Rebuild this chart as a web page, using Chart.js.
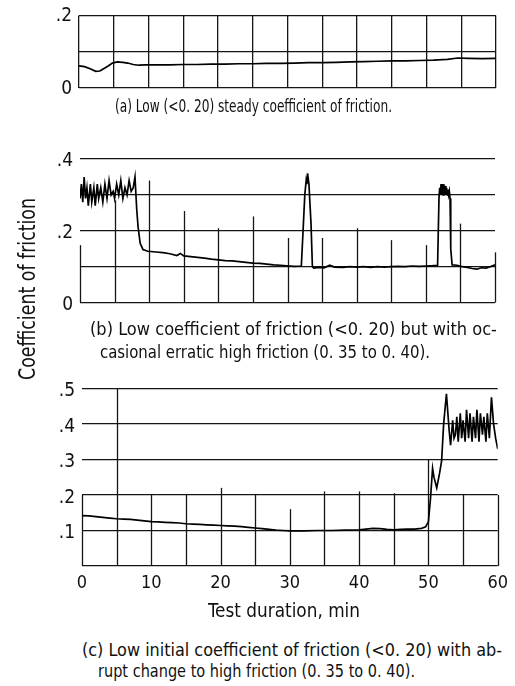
<!DOCTYPE html>
<html><head><meta charset="utf-8">
<script src="https://cdn.jsdelivr.net/npm/chart.js@4.4.1/dist/chart.umd.min.js"></script>
<style>
html,body{margin:0;padding:0;background:#fff;}
#page{position:relative;width:515px;height:686px;overflow:hidden;background:#fff;}
canvas{position:absolute;left:0;}
.txt{position:absolute;white-space:nowrap;line-height:1;color:#111;
 font-family:"Liberation Sans Narrow","DejaVu Sans Condensed","Liberation Sans",sans-serif;transform-origin:0 0;}
</style></head><body>
<div id="page">
 <canvas id="ca" width="515" height="109" style="top:-3px"></canvas>
 <canvas id="cb" width="515" height="181" style="top:140px"></canvas>
 <canvas id="cc" width="515" height="232" style="top:370px"></canvas>
</div>
<script>
// ---------- data ----------
const aMin = [0,0.8,1.6,2.4,3.0,3.6,4.2,4.8,5.5,6.3,7.0,7.8,8.6,9.5,11,13,15,17,19,21,23,25,27,29,31,33,35,37,39,41,43,45,47,49,51,53,54.5,56,58,60];
const aVal = [0.060,0.058,0.052,0.045,0.046,0.053,0.060,0.068,0.071,0.070,0.068,0.064,0.062,0.063,0.063,0.063,0.064,0.064,0.065,0.065,0.066,0.066,0.067,0.067,0.068,0.069,0.069,0.070,0.071,0.072,0.073,0.074,0.074,0.075,0.076,0.078,0.082,0.081,0.080,0.081];

const bMin = [0,0.2,0.4,0.6,0.8,1.0,1.2,1.5,1.7,2.0,2.2,2.5,2.7,3.0,3.3,3.6,3.9,4.2,4.5,4.8,5.0,5.3,5.6,5.9,6.2,6.5,6.8,7.1,7.4,7.7,7.95,
 8.2,8.4,8.7,9.1,9.8,11,12,13,14,14.5,15,16,17,18,19,20,21,22,23,24,25,26,27,28,29,30.3,31,32.0,
 32.2,32.5,32.7,32.8,32.9,33.1,33.4,33.6,33.8,34.5,35.3,36.1,36.8,38,39,40,41,42,43,44,45,46,47,48,49,50,51.0,51.7,
 51.9,52.0,52.1,52.2,52.3,52.4,52.5,52.6,52.7,52.8,52.9,53.0,53.1,53.2,53.3,53.4,53.5,53.6,53.8,
 54.5,55.3,56,56.7,57.4,58,58.7,59.3,60];
const bVal = [0.29,0.33,0.28,0.35,0.29,0.32,0.27,0.33,0.28,0.32,0.27,0.33,0.29,0.32,0.28,0.33,0.29,0.34,0.30,0.31,0.29,0.33,0.30,0.34,0.29,0.32,0.30,0.34,0.31,0.32,0.35,
 0.26,0.21,0.165,0.148,0.143,0.141,0.139,0.136,0.131,0.137,0.130,0.128,0.126,0.124,0.121,0.119,0.117,0.116,0.114,0.112,0.110,0.109,0.107,0.105,0.104,0.102,0.101,0.102,
 0.18,0.30,0.34,0.33,0.36,0.33,0.22,0.10,0.096,0.098,0.097,0.104,0.099,0.098,0.100,0.099,0.100,0.098,0.100,0.099,0.100,0.101,0.100,0.102,0.101,0.102,0.103,0.104,
 0.29,0.32,0.30,0.33,0.30,0.33,0.30,0.33,0.30,0.325,0.30,0.32,0.30,0.315,0.30,0.31,0.29,0.15,0.105,
 0.104,0.100,0.098,0.095,0.093,0.097,0.096,0.100,0.105];

const cMin = [0,1,2,3,4,5,6,7,8,9,10,11,12,13,14,15,16,17,18,19,20,21,22,23,24,25,26,27,28,29,30,32,34,36,38,40,41,42,43,44,45,46,47,48,49,
 49.6,50.0,50.3,50.6,50.8,51.2,51.6,51.9,52.2,52.6,53.0,53.2,53.5,53.7,53.9,54.1,54.3,54.6,54.8,55.0,55.3,55.5,55.8,56.0,56.3,56.5,56.8,57.0,57.3,57.5,57.8,58.0,58.3,58.5,58.8,59.1,59.4,59.7,60];
const cVal = [0.142,0.141,0.139,0.137,0.135,0.133,0.132,0.131,0.129,0.127,0.125,0.124,0.123,0.122,0.121,0.119,0.118,0.117,0.116,0.115,0.114,0.113,0.112,0.111,0.109,0.107,0.105,0.103,0.101,0.100,0.099,0.099,0.100,0.100,0.101,0.102,0.104,0.106,0.105,0.103,0.102,0.103,0.104,0.104,0.106,
 0.110,0.125,0.19,0.275,0.25,0.22,0.26,0.295,0.40,0.485,0.38,0.34,0.41,0.36,0.37,0.42,0.35,0.43,0.36,0.41,0.35,0.44,0.36,0.43,0.35,0.42,0.36,0.44,0.35,0.43,0.37,0.42,0.35,0.43,0.36,0.475,0.40,0.36,0.33];

const aYTickLabels = ['0','','.2'];
const bYTickLabels = ['0','','.2','','.4'];
const cYTickLabels = ['','.1','.2','.3','.4','.5'];
const xTickLabels = ['0','','10','','20','','30','','40','','50','','60'];
// chart-paper vertical rulings (top end of each 5-min line, in friction units)
const bRuleTops = [0.16,0.285,0.34,0.255,0.207,0.24,0.18,0.18,0.207,0.174,0.16,0.22,0.14];
const cRuleTops = [0.2,0.5,0.2,0.2,0.22,0.2,0.16,0.21,0.21,0.205,0.3,0.2,0.2];

// ---------- chart setup ----------
const FONT = '"Liberation Sans Narrow","DejaVu Sans Condensed","Liberation Sans",sans-serif';
Chart.defaults.font.family = FONT;
Chart.defaults.color = '#111';
const INK = '#151515';
const GRIDW = 1.3;

const ruleLines = {
  id: 'ruleLines',
  beforeDatasetsDraw(chart, args, opts) {
    if (!opts || !opts.tops) return;
    const ctx = chart.ctx, xs = chart.scales.x, ys = chart.scales.y;
    ctx.save();
    ctx.strokeStyle = INK; ctx.lineWidth = GRIDW;
    opts.tops.forEach((t, i) => {
      const px = Math.round(xs.getPixelForValue(i * 5)) + 0.5;
      ctx.beginPath();
      ctx.moveTo(px, ys.getPixelForValue(0));
      ctx.lineTo(px, ys.getPixelForValue(t));
      ctx.stroke();
    });
    ctx.restore();
  }
};

function pts(xs, ys) { return xs.map((x, i) => ({x, y: ys[i]})); }

function makeChart(id, cfg) {
  return new Chart(document.getElementById(id), {
    type: 'line',
    data: { datasets: [{ data: pts(cfg.xs, cfg.ys), borderColor: '#000', borderWidth: 1.7,
      pointRadius: 0, tension: 0, fill: false }] },
    plugins: [ruleLines],
    options: {
      responsive: false, animation: false, events: [],
      layout: { padding: cfg.padding },
      plugins: { legend: { display: false }, tooltip: { enabled: false },
        ruleLines: cfg.tops ? { tops: cfg.tops } : {} },
      scales: {
        x: {
          type: 'linear', min: 0, max: 60,
          ticks: { stepSize: 5, display: cfg.xLabels, padding: 7, font: { size: 18 },
            callback: (v, i) => xTickLabels[i], maxRotation: 0, autoSkip: false },
          grid: { display: !cfg.tops, color: INK, lineWidth: GRIDW, drawTicks: false },
          border: { display: false },
          afterFit: s => { s.height = cfg.xHeight; }
        },
        y: {
          min: 0, max: cfg.ymax,
          ticks: { stepSize: 0.1, padding: 7, font: { size: 19 }, labelOffset: cfg.labelOffset,
            callback: (v, i) => cfg.yLabels[i], autoSkip: false },
          grid: { color: INK, lineWidth: GRIDW, drawTicks: false },
          border: { display: false },
          afterFit: s => { s.width = cfg.yWidth; }
        }
      }
    }
  });
}

makeChart('ca', { xs: aMin, ys: aVal, ymax: 0.2, yLabels: aYTickLabels, padding: {top: 11, right: 19, bottom: 14, left: 0},
  yWidth: 79, xHeight: 0, xLabels: false, labelOffset: 1 });
makeChart('cb', { xs: bMin, ys: bVal, ymax: 0.4, yLabels: bYTickLabels, padding: {top: 19, right: 20, bottom: 14, left: 0},
  yWidth: 80, xHeight: 0, xLabels: false, labelOffset: 2, tops: bRuleTops });
makeChart('cc', { xs: cMin, ys: cVal, ymax: 0.5, yLabels: cYTickLabels, padding: {top: 16, right: 17, bottom: 0, left: 0},
  yWidth: 82, xHeight: 36, xLabels: true, labelOffset: 3, tops: cRuleTops });

// ---------- text ----------
const page = document.getElementById('page');
const BASE = 0.8465;
function addText(str, o) {
  const el = document.createElement('div');
  el.className = 'txt';
  el.textContent = str;
  el.style.fontSize = o.size + 'px';
  page.appendChild(el);
  const w = el.getBoundingClientRect().width;
  const s = o.width / w;
  const b = BASE * o.size;
  if (o.rotate) {
    el.style.left = (o.base - b) + 'px';
    el.style.top = o.start + 'px';
    el.style.transform = 'rotate(-90deg) scaleX(' + s + ')';
  } else {
    el.style.left = o.left + 'px';
    el.style.top = (o.base - b) + 'px';
    el.style.transform = 'scaleX(' + s + ')';
  }
}
addText('(a) Low (<0. 20) steady coefficient of friction.', {left: 115, width: 277, base: 112, size: 17});
addText('(b) Low coefficient of friction (<0. 20) but with oc-', {left: 90, width: 407, base: 335, size: 17});
addText('casional erratic high friction (0. 35 to 0. 40).', {left: 100, width: 330, base: 358, size: 17});
addText('Test duration,  min', {left: 208, width: 152, base: 617, size: 19});
addText('(c) Low initial coefficient of friction (<0. 20) with ab-', {left: 82, width: 420, base: 656, size: 17});
addText('rupt change to high friction (0. 35 to 0. 40).', {left: 98, width: 317, base: 677, size: 17});
addText('Coefficient of friction', {rotate: true, base: 35, start: 380, width: 182, size: 23});
</script>
</body></html>
